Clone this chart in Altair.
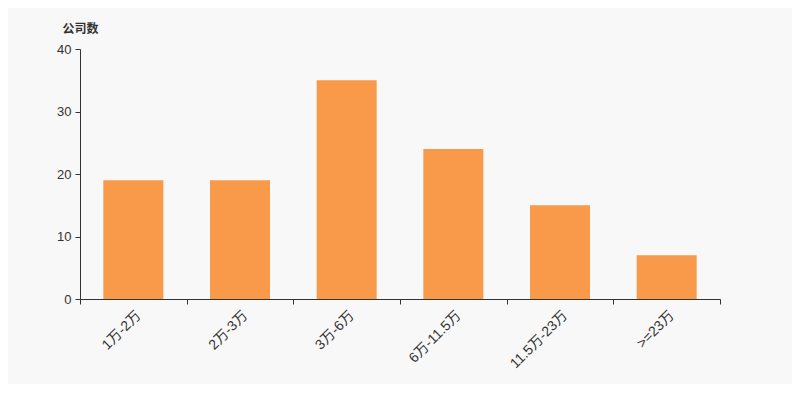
import altair as alt
import pandas as pd

categories = ["1万-2万", "2万-3万", "3万-6万", "6万-11.5万", "11.5万-23万", ">=23万"]
counts = [19, 19, 35, 24, 15, 7]

df = pd.DataFrame({"cat": categories, "n": counts})

FONT = "Liberation Sans, Noto Sans CJK SC, sans-serif"

chart = alt.Chart(df).mark_bar(color="#f89a4a", width=alt.RelativeBandSize(0.5625)).encode(
    x=alt.X("cat:N", sort=categories,
            scale=alt.Scale(paddingInner=0, paddingOuter=0),
            axis=alt.Axis(title=None, labelAngle=-45, labelAlign="right", labelBaseline="top",
                          labelFontSize=14, labelColor="#333", labelFont=FONT,
                          domainColor="#333", tickColor="#333", tickSize=5,
                          tickBand="extent", labelPadding=4)),
    y=alt.Y("n:Q", scale=alt.Scale(domain=[0, 40]),
            axis=alt.Axis(title="公司数", titleAngle=0, titleX=0, titleY=-17,
                          titleAlign="center", titleBaseline="alphabetic",
                          titleFont="Noto Sans CJK SC", titleFontSize=12, titleFontWeight="bold",
                          titleColor="#333",
                          values=[0, 10, 20, 30, 40], grid=False,
                          labelFontSize=13, labelColor="#333", labelFont=FONT,
                          domainColor="#333", tickColor="#333", tickSize=5,
                          labelPadding=4)),
).properties(
    width=640, height=250,
    background="#f8f8f8",
    padding={"left": 72, "top": 41, "right": 72, "bottom": 85},
    autosize=alt.AutoSizeParams(type="none"),
).configure_view(stroke=None)

chart.save("out.html", embed_options={"renderer": "svg", "actions": False})
